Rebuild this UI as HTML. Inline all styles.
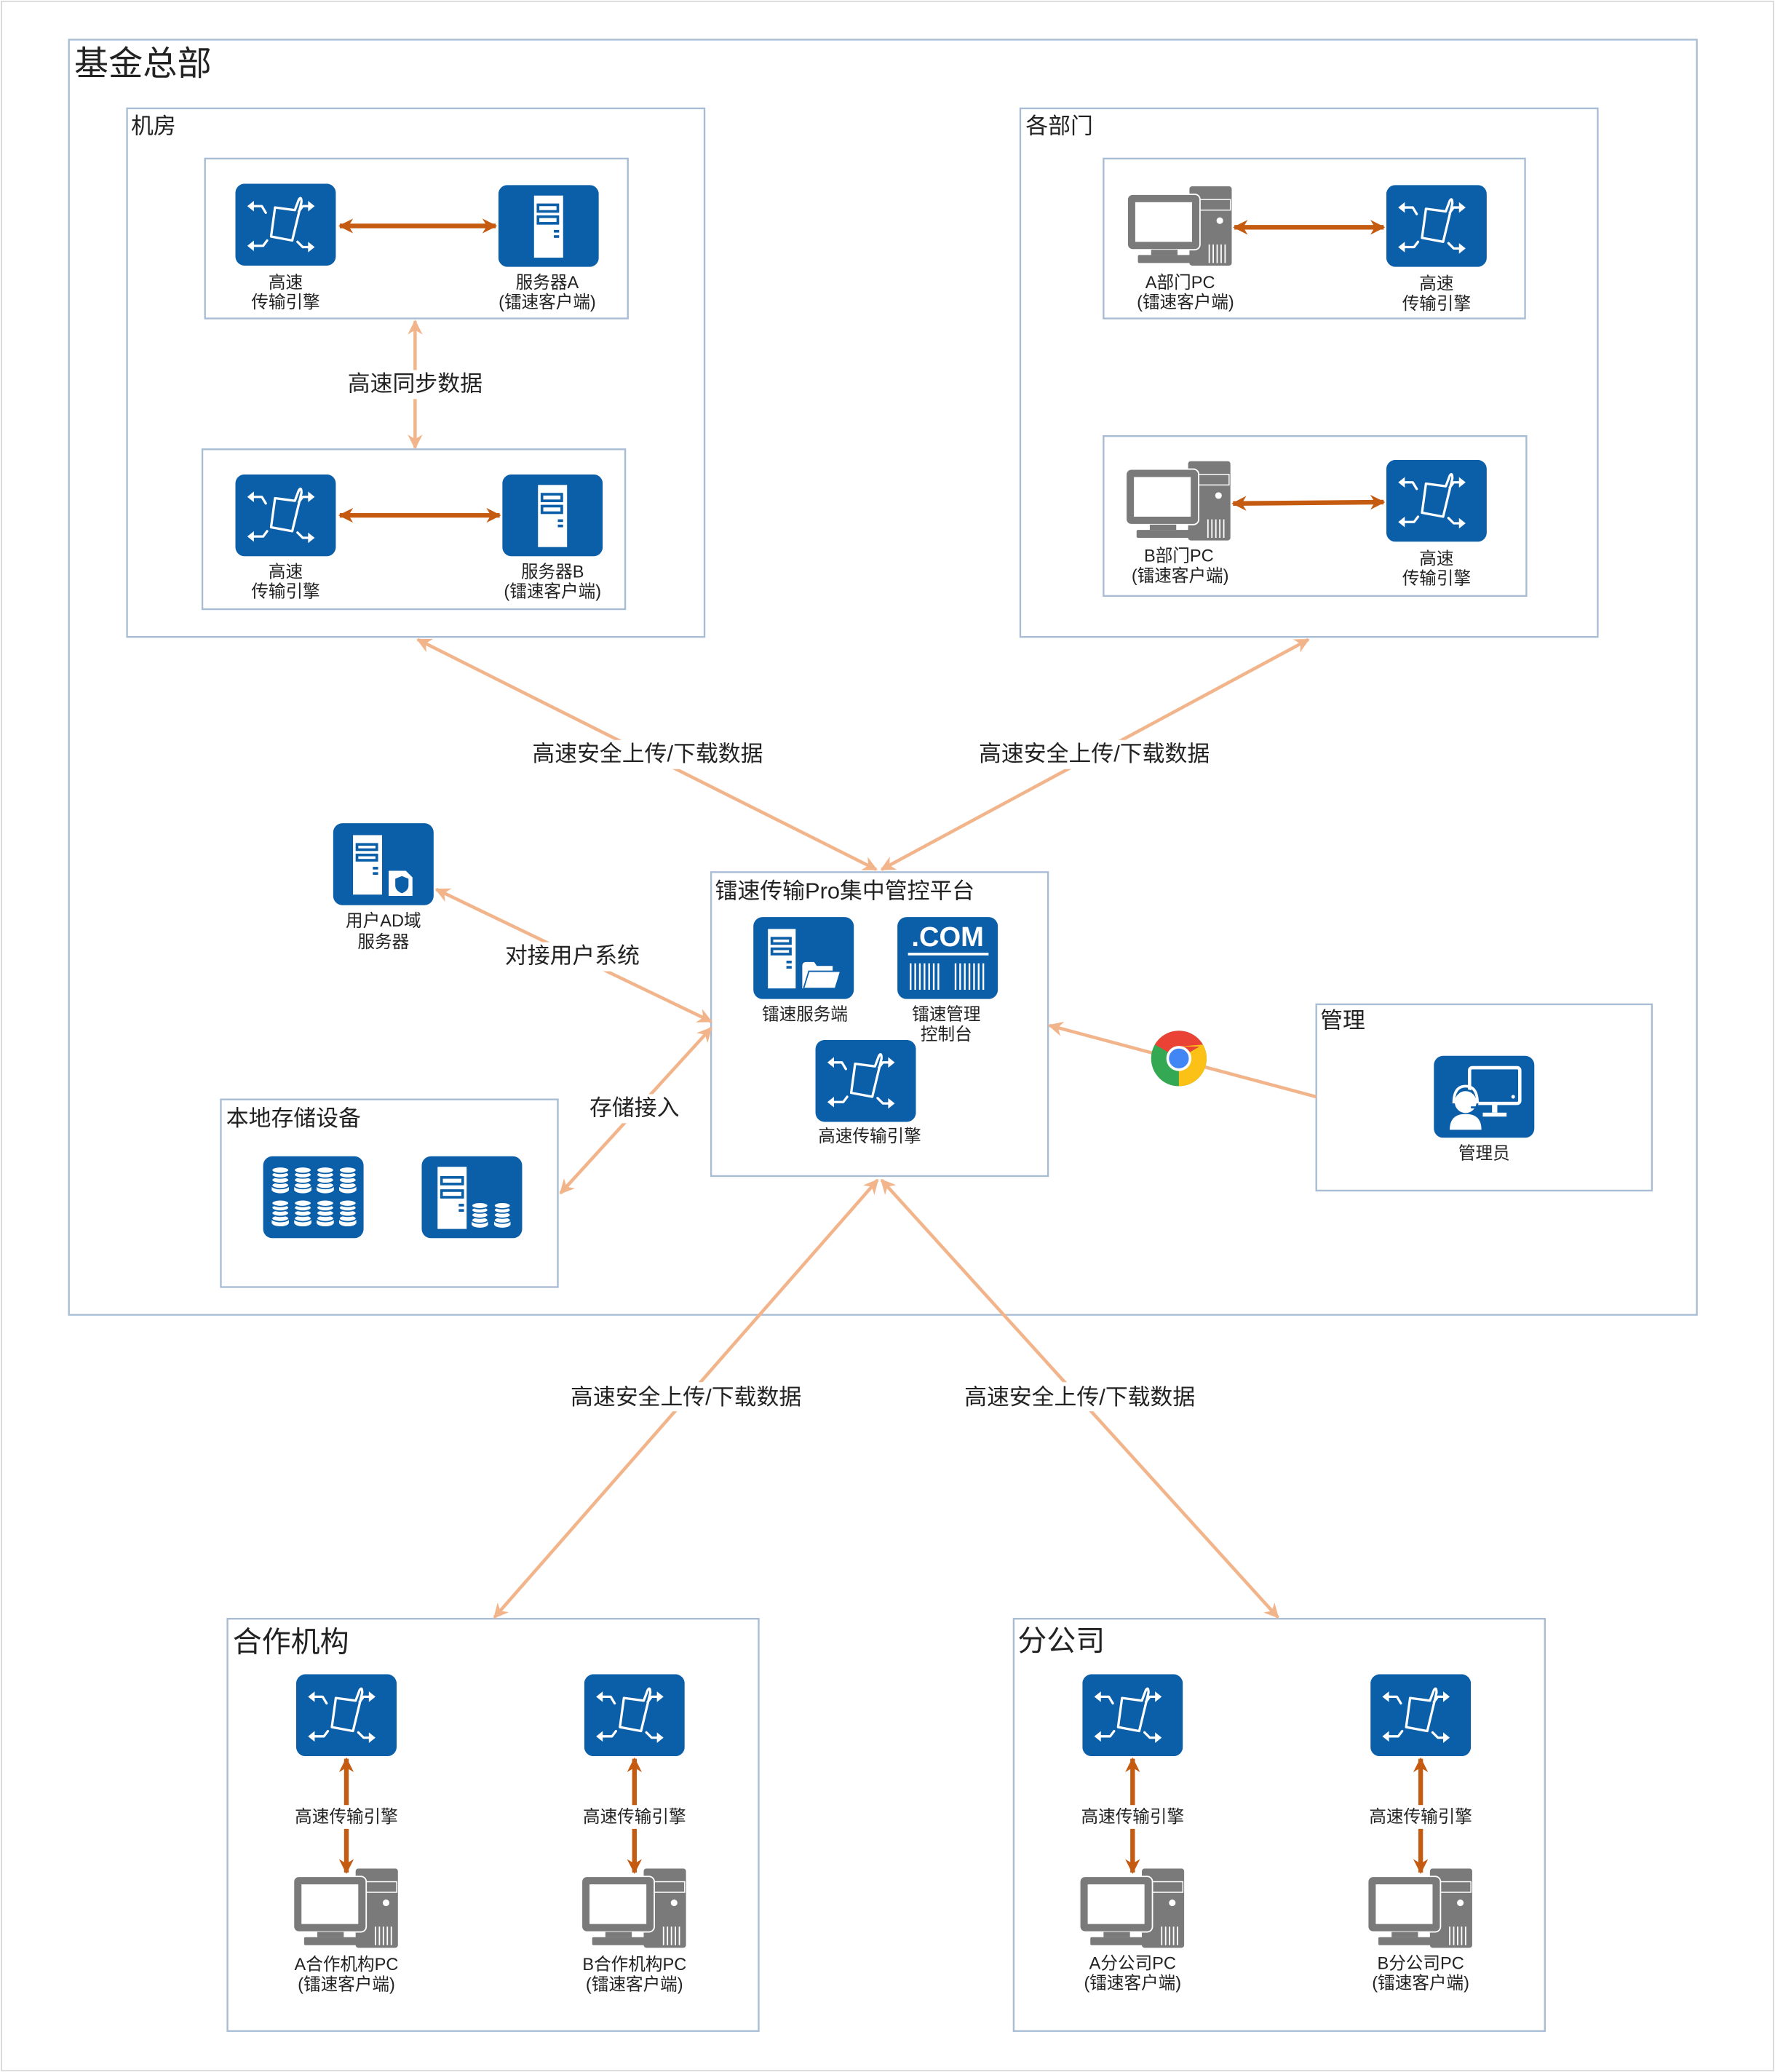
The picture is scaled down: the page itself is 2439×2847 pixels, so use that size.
<!DOCTYPE html>
<html><head><meta charset="utf-8"><style>
html,body{margin:0;padding:0;background:#fff;}
svg{display:block;}
text{font-family:"Liberation Sans","Noto Sans CJK SC",sans-serif;fill:#222;}
</style></head><body>
<svg width="2439" height="2847" viewBox="0 0 1343 1568" xmlns="http://www.w3.org/2000/svg">
<defs>
<marker id="da" viewBox="0 0 10 10" refX="9" refY="5" markerWidth="3.2" markerHeight="3.2" orient="auto-start-reverse"><path d="M0,0 L10,5 L0,10 L3,5 z" fill="#c55a11"/></marker>
<marker id="la" viewBox="0 0 10 10" refX="9" refY="5" markerWidth="4.5" markerHeight="4.5" orient="auto-start-reverse"><path d="M0,0 L10,5 L0,10 L3,5 z" fill="#f2b48a"/></marker>
<symbol id="eng" viewBox="0 0 76 62">
<rect width="76" height="62" rx="7" fill="#0b5ea8"/>
<g fill="none" stroke="#fff" stroke-width="1.8" stroke-linecap="round" stroke-linejoin="round">
<path d="M30,18 L45,20 L48,12 Q50,9 50,14 L43,43 L27,40 Z"/>
<path d="M23,22 L20,17 L12,17"/><path d="M57,17 L51,17 L48,21"/>
<path d="M24,43 L21,47 L12,47"/><path d="M47,44 L51,48 L57,48"/>
</g>
<g fill="#fff"><path d="M9,17 L14,13 L14,21 Z"/><path d="M60,17 L55,13 L55,21 Z"/><path d="M9,47 L14,43 L14,51 Z"/><path d="M60,48 L55,44 L55,52 Z"/></g>
</symbol>
<symbol id="srv" viewBox="0 0 76 62">
<rect width="76" height="62" rx="7" fill="#0b5ea8"/>
<rect x="27" y="8" width="22" height="47" fill="#fff"/>
<rect x="29" y="14" width="17" height="7" fill="#0b5ea8"/><rect x="31" y="16" width="13" height="3" fill="#fff"/>
<rect x="29" y="23" width="17" height="7" fill="#0b5ea8"/><rect x="31" y="25" width="13" height="3" fill="#fff"/>
<rect x="42" y="34" width="4" height="2" fill="#0b5ea8"/><rect x="42" y="38" width="4" height="2" fill="#0b5ea8"/>
</symbol>
<symbol id="pc" viewBox="0 0 80 62">
<rect x="47" y="0" width="32" height="60" rx="2" fill="#7a7a7a"/>
<rect x="52" y="10" width="26" height="8" fill="none" stroke="#fff" stroke-width="0.8"/>
<circle cx="70" cy="26" r="2.5" fill="#fff"/>
<g stroke="#fff" stroke-width="1"><path d="M62,44V58M65,44V58M68,44V58M71,44V58M74,44V58"/></g>
<rect x="0" y="6" width="55" height="42" rx="4" fill="#7a7a7a" stroke="#fff" stroke-width="1"/>
<rect x="6" y="12" width="43" height="30" fill="#fff"/>
<rect x="18" y="48" width="20" height="4" fill="#7a7a7a"/>
<rect x="8" y="52" width="40" height="6" rx="1" fill="#7a7a7a"/>
</symbol>
<symbol id="disk" viewBox="0 0 14 22">
<g fill="#fff" stroke="#0b5ea8" stroke-width="1"><ellipse cx="7" cy="19" rx="6.5" ry="2.5"/><rect x="0.5" y="15" width="13" height="4" stroke="none"/><ellipse cx="7" cy="15" rx="6.5" ry="2.5"/><ellipse cx="7" cy="11" rx="6.5" ry="2.5"/><ellipse cx="7" cy="7" rx="6.5" ry="2.5"/><ellipse cx="7" cy="3.5" rx="6.5" ry="2.5"/></g>
</symbol>
</defs>

<rect x="1" y="1" width="1341" height="1566" fill="none" stroke="#d8d8d8"/>
<g fill="none" stroke="#a8bcd4" stroke-width="1.3">
<rect x="52" y="30" width="1232" height="965"/>
<rect x="96" y="82" width="437" height="400"/>
<rect x="155" y="120" width="320" height="121"/>
<rect x="153" y="340" width="320" height="121"/>
<rect x="772" y="82" width="437" height="400"/>
<rect x="835" y="120" width="319" height="121"/>
<rect x="835" y="330" width="320" height="121"/>
<rect x="538" y="660" width="255" height="230"/>
<rect x="167" y="832" width="255" height="142"/>
<rect x="996" y="760" width="254" height="141"/>
<rect x="172" y="1225" width="402" height="312"/>
<rect x="767" y="1225" width="402" height="312"/>
</g>
<g font-size="26"><text x="56" y="57">基金总部</text></g>
<g font-size="17">
<text x="99" y="101">机房</text><text x="776" y="101">各部门</text>
<text x="541" y="680">镭速传输Pro集中管控平台</text>
<text x="171" y="852">本地存储设备</text><text x="999" y="778">管理</text>
</g>
<g font-size="22"><text x="176" y="1250">合作机构</text><text x="770" y="1249">分公司</text></g>

<!-- light connectors -->
<g stroke="#f2b48a" stroke-width="2.5" fill="none" marker-start="url(#la)" marker-end="url(#la)">
<line x1="314" y1="243" x2="314" y2="339"/>
<line x1="316" y1="484" x2="663" y2="658"/>
<line x1="990" y1="484" x2="667" y2="658"/>
<line x1="330" y1="673" x2="538" y2="773"/>
<line x1="424" y1="903" x2="538" y2="778"/>
<line x1="664" y1="893" x2="374" y2="1224"/>
<line x1="667" y1="893" x2="967" y2="1224"/>
</g>
<line x1="794" y1="776" x2="996" y2="830" stroke="#f2b48a" stroke-width="2.5" marker-start="url(#la)"/>

<g font-size="17" text-anchor="middle">
<rect x="258" y="280" width="112" height="22" fill="#fff"/><text x="314" y="296">高速同步数据</text>
<rect x="397" y="560" width="186" height="22" fill="#fff"/><text x="490" y="576">高速安全上传/下载数据</text>
<rect x="734" y="560" width="188" height="22" fill="#fff"/><text x="828" y="576">高速安全上传/下载数据</text>
<rect x="378" y="713" width="110" height="22" fill="#fff"/><text x="433" y="729">对接用户系统</text>
<rect x="442" y="828" width="76" height="22" fill="#fff"/><text x="480" y="844">存储接入</text>
<rect x="425" y="1046" width="188" height="22" fill="#fff"/><text x="519" y="1063">高速安全上传/下载数据</text>
<rect x="723" y="1046" width="188" height="22" fill="#fff"/><text x="817" y="1063">高速安全上传/下载数据</text>
</g>

<!-- dark arrows -->
<g stroke="#c55a11" stroke-width="3.5" marker-start="url(#da)" marker-end="url(#da)">
<line x1="257" y1="171" x2="375" y2="171"/>
<line x1="257" y1="390" x2="378" y2="390"/>
<line x1="934" y1="172" x2="1047" y2="172"/>
<line x1="933" y1="381" x2="1047" y2="380"/>
<line x1="262" y1="1331" x2="262" y2="1417"/>
<line x1="480" y1="1331" x2="480" y2="1417"/>
<line x1="857" y1="1331" x2="857" y2="1417"/>
<line x1="1075" y1="1331" x2="1075" y2="1417"/>
</g>

<!-- icons -->
<use href="#eng" x="178" y="139" width="76" height="62"/>
<use href="#srv" x="377" y="140" width="76" height="62"/>
<use href="#eng" x="178" y="359" width="76" height="62"/>
<use href="#srv" x="380" y="359" width="76" height="62"/>
<use href="#pc" x="853" y="141" width="80" height="62"/>
<use href="#eng" x="1049" y="140" width="76" height="62"/>
<use href="#pc" x="852" y="349" width="80" height="62"/>
<use href="#eng" x="1049" y="348" width="76" height="62"/>
<use href="#eng" x="617" y="787" width="76" height="62"/>
<use href="#eng" x="224" y="1267" width="76" height="62"/>
<use href="#eng" x="442" y="1267" width="76" height="62"/>
<use href="#eng" x="819" y="1267" width="76" height="62"/>
<use href="#eng" x="1037" y="1267" width="76" height="62"/>
<use href="#pc" x="222" y="1414" width="80" height="62"/>
<use href="#pc" x="440" y="1414" width="80" height="62"/>
<use href="#pc" x="817" y="1414" width="80" height="62"/>
<use href="#pc" x="1035" y="1414" width="80" height="62"/>

<!-- server with folder -->
<g transform="translate(570,694)">
<rect width="76" height="62" rx="7" fill="#0b5ea8"/>
<rect x="11" y="9" width="21" height="45" fill="#fff"/>
<rect x="13" y="15" width="16" height="6" fill="#0b5ea8"/><rect x="15" y="17" width="12" height="2" fill="#fff"/>
<rect x="13" y="23" width="16" height="6" fill="#0b5ea8"/><rect x="15" y="25" width="12" height="2" fill="#fff"/>
<rect x="25" y="33" width="4" height="2" fill="#0b5ea8"/><rect x="25" y="37" width="4" height="2" fill="#0b5ea8"/>
<path d="M37,54 L37,37 Q37,34 40,34 L46,34 L48,37 L60,37 L60,54 Z" fill="#fff"/>
<path d="M38,54 L42,41 L66,41 L62,54 Z" fill="#fff" stroke="#0b5ea8" stroke-width="1"/>
</g>
<!-- .COM -->
<g transform="translate(679,694)">
<rect width="76" height="62" rx="7" fill="#0b5ea8"/>
<text x="38" y="22" text-anchor="middle" font-size="21" font-weight="bold" style="fill:#fff">.COM</text>
<rect x="8" y="27" width="61" height="2" fill="#fff"/>
<g stroke="#fff" stroke-width="1.3"><path d="M10,35V55M13.5,35V55M17,35V55M20.5,35V55M24,35V55M27.5,35V55M31,35V55M44,35V55M47.5,35V55M51,35V55M54.5,35V55M58,35V55M61.5,35V55M65,35V55"/></g>
</g>
<!-- AD server -->
<g transform="translate(252,623)">
<rect width="76" height="62" rx="7" fill="#0b5ea8"/>
<rect x="15" y="9" width="22" height="45" fill="#fff"/>
<rect x="17" y="15" width="17" height="6" fill="#0b5ea8"/><rect x="19" y="17" width="13" height="2" fill="#fff"/>
<rect x="17" y="23" width="17" height="6" fill="#0b5ea8"/><rect x="19" y="25" width="13" height="2" fill="#fff"/>
<rect x="30" y="33" width="4" height="2" fill="#0b5ea8"/><rect x="30" y="37" width="4" height="2" fill="#0b5ea8"/>
<path d="M42,36 L55,36 L60,41 L60,55 L42,55 Z" fill="#fff"/>
<path d="M47,42 L52,40 L57,42 L57,47 Q57,51 52,53 Q47,51 47,47 Z" fill="#0b5ea8"/>
</g>
<!-- storage -->
<g transform="translate(199,875)">
<rect width="76" height="62" rx="7" fill="#0b5ea8"/>
<use href="#disk" x="6" y="7" width="14" height="22"/><use href="#disk" x="23" y="7" width="14" height="22"/><use href="#disk" x="40" y="7" width="14" height="22"/><use href="#disk" x="57" y="7" width="14" height="22"/>
<use href="#disk" x="6" y="32" width="14" height="22"/><use href="#disk" x="23" y="32" width="14" height="22"/><use href="#disk" x="40" y="32" width="14" height="22"/><use href="#disk" x="57" y="32" width="14" height="22"/>
</g>
<g transform="translate(319,875)">
<rect width="76" height="62" rx="7" fill="#0b5ea8"/>
<rect x="12" y="8" width="22" height="47" fill="#fff"/>
<rect x="14" y="15" width="18" height="7" fill="#0b5ea8"/><rect x="16" y="17" width="14" height="3" fill="#fff"/>
<rect x="14" y="25" width="18" height="7" fill="#0b5ea8"/><rect x="16" y="27" width="14" height="3" fill="#fff"/>
<rect x="28" y="36" width="4" height="2" fill="#0b5ea8"/><rect x="28" y="40" width="4" height="2" fill="#0b5ea8"/>
<use href="#disk" x="37" y="34" width="14" height="21"/><use href="#disk" x="54" y="34" width="14" height="21"/>
</g>
<!-- admin -->
<g transform="translate(1085,799)">
<rect width="76" height="62" rx="7" fill="#0b5ea8"/>
<rect x="27" y="9" width="38" height="27" rx="2" fill="none" stroke="#fff" stroke-width="2.5"/>
<circle cx="60" cy="31" r="1.4" fill="#fff"/>
<rect x="44" y="37" width="4" height="6" fill="#fff"/><rect x="37" y="43" width="18" height="3" fill="#fff"/>
<circle cx="24" cy="35" r="9" fill="#fff" stroke="#0b5ea8" stroke-width="1.5"/>
<path d="M15,36 Q15,23 24,23 Q33,23 33,36" fill="none" stroke="#fff" stroke-width="2"/>
<path d="M12,56 Q12,44 24,44 Q36,44 36,56 Z" fill="#fff"/>
<path d="M28,39 L33,39" stroke="#0b5ea8" stroke-width="1.5"/>
</g>
<!-- chrome -->
<g transform="translate(892,801)">
<circle r="21" fill="#34a853"/>
<path d="M0,0 L-18.2,-10.5 A21,21 0 0 1 18.2,-10.5 Z" fill="#ea4335"/>
<path d="M0,0 L18.2,-10.5 A21,21 0 0 1 0,21 Z" fill="#fbc116"/>
<path d="M0,-9 L18.2,-10.5 L18.2,-9 Z" fill="#fbc116"/>
<circle r="9.5" fill="#fff"/><circle r="7.5" fill="#4285f4"/>
</g>

<g font-size="13" text-anchor="middle">
<text x="216" y="218">高速</text><text x="216" y="233">传输引擎</text>
<text x="414" y="218">服务器A</text><text x="414" y="233">(镭速客户端)</text>
<text x="216" y="437">高速</text><text x="216" y="452">传输引擎</text>
<text x="418" y="437">服务器B</text><text x="418" y="452">(镭速客户端)</text>
<text x="893" y="218">A部门PC</text><text x="897" y="233">(镭速客户端)</text>
<text x="1087" y="219">高速</text><text x="1087" y="234">传输引擎</text>
<text x="892" y="425">B部门PC</text><text x="893" y="440">(镭速客户端)</text>
<text x="1087" y="427">高速</text><text x="1087" y="442">传输引擎</text>
<text x="609" y="772">镭速服务端</text>
<text x="716" y="772">镭速管理</text><text x="716" y="787">控制台</text>
<text x="658" y="864">高速传输引擎</text>
<text x="290" y="701">用户AD域</text><text x="290" y="717">服务器</text>
<text x="1123" y="877">管理员</text>
<text x="262" y="1491">A合作机构PC</text><text x="262" y="1506">(镭速客户端)</text>
<text x="480" y="1491">B合作机构PC</text><text x="480" y="1506">(镭速客户端)</text>
<text x="857" y="1490">A分公司PC</text><text x="857" y="1505">(镭速客户端)</text>
<text x="1075" y="1490">B分公司PC</text><text x="1075" y="1505">(镭速客户端)</text>
<rect x="220" y="1366" width="84" height="18" fill="#fff"/><text x="262" y="1379">高速传输引擎</text>
<rect x="438" y="1366" width="84" height="18" fill="#fff"/><text x="480" y="1379">高速传输引擎</text>
<rect x="815" y="1366" width="84" height="18" fill="#fff"/><text x="857" y="1379">高速传输引擎</text>
<rect x="1033" y="1366" width="84" height="18" fill="#fff"/><text x="1075" y="1379">高速传输引擎</text>
</g>
</svg>
</body></html>
